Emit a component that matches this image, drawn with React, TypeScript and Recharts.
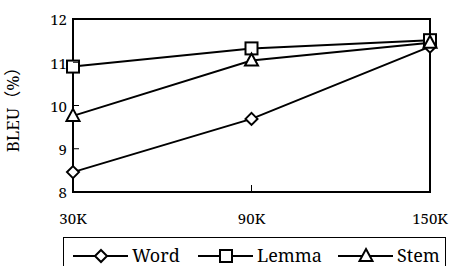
import { Line, LineChart, ReferenceArea, XAxis, YAxis } from "recharts";

const sizes = ["30K", "90K", "150K"];
const wordBleu = [8.46, 9.69, 11.36];
const lemmaBleu = [10.9, 11.32, 11.51];
const stemBleu = [9.76, 11.04, 11.45];
const yTicks = [8, 9, 10, 11, 12];
const seriesNames = ["Word", "Lemma", "Stem"];

const chartData = sizes.map((size, i) => ({
  size,
  Word: wordBleu[i],
  Lemma: lemmaBleu[i],
  Stem: stemBleu[i]
}));

// Liberation Serif falls back to sans here, Noto Serif is the closest Times-like face
const serif = "Noto Serif, DejaVu Serif, Noto Sans CJK SC, serif";

function Marker({ kind, cx, cy }: { kind: string; cx: number; cy: number }) {
  const common = { fill: "#fff", stroke: "#000", strokeWidth: 2 };
  if (kind === "Word") {
    const r = 6;
    return (
      <path
        d={`M${cx},${cy - r}L${cx + r},${cy}L${cx},${cy + r}L${cx - r},${cy}Z`}
        {...common}
      />
    );
  }
  if (kind === "Lemma") {
    return <rect x={cx - 6} y={cy - 6} width={12} height={12} {...common} />;
  }
  return (
    <path
      d={`M${cx},${cy - 7}L${cx + 6.5},${cy + 5}L${cx - 6.5},${cy + 5}Z`}
      {...common}
    />
  );
}

function dotFor(kind: string) {
  return (props: any) => (
    <Marker key={`${kind}-${props.index}`} kind={kind} cx={props.cx} cy={props.cy} />
  );
}

// x ticks point up into the plot, labels sit well below the axis
function XTick(props: any) {
  const { x, y, payload } = props;
  return (
    <g>
      <line x1={x} x2={x} y1={y - 21} y2={y - 28} stroke="#000" strokeWidth={1} />
      <text
        x={x}
        y={y}
        dy="0.71em"
        textAnchor="middle"
        fontSize={15}
        fontFamily={serif}
        fill="#000"
      >
        {payload.value}
      </text>
    </g>
  );
}

// y ticks point right, into the plot
function YTick(props: any) {
  const { x, y, payload } = props;
  return (
    <g>
      <line x1={x + 6} x2={x + 12} y1={y} y2={y} stroke="#000" strokeWidth={1} />
      <text
        x={x}
        y={y + 1}
        dy="0.355em"
        textAnchor="end"
        fontSize={15}
        fontFamily={serif}
        fill="#000"
      >
        {payload.value}
      </text>
    </g>
  );
}

function ChartLegend() {
  const lineStarts = [9, 134, 274];
  return (
    <div
      style={{
        position: "absolute",
        left: 63,
        top: 237,
        width: 383,
        height: 40,
        border: "1px solid #000",
        boxSizing: "border-box",
        background: "#fff"
      }}
    >
      <svg width={383} height={40} style={{ display: "block" }}>
        {seriesNames.map((name, i) => {
          const x0 = lineStarts[i];
          return (
            <g key={name}>
              <line x1={x0} x2={x0 + 55} y1={18} y2={18} stroke="#000" strokeWidth={2} />
              <Marker kind={name} cx={x0 + 28} cy={18} />
              <text
                x={x0 + 59}
                y={18}
                dy="0.35em"
                fontSize={18}
                fontFamily={serif}
                fill="#000"
              >
                {name}
              </text>
            </g>
          );
        })}
      </svg>
    </div>
  );
}

export default function App() {
  return (
    <div
      style={{
        position: "absolute",
        left: 0,
        top: 0,
        width: 449,
        height: 266,
        background: "#fff",
        overflow: "hidden"
      }}
    >
      <LineChart
        width={449}
        height={266}
        data={chartData}
        margin={{ top: 19, right: 19, bottom: 44, left: 0 }}
      >
        <ReferenceArea
          x1="30K"
          x2="150K"
          y1={8}
          y2={12}
          fill="#fff"
          fillOpacity={0}
          stroke="#000"
          strokeWidth={2}
        />
        <XAxis
          dataKey="size"
          height={30}
          tickSize={0}
          tickMargin={21}
          axisLine={{ stroke: "#000", strokeWidth: 2 }}
          tick={<XTick />}
          interval={0}
        />
        <YAxis
          width={73}
          domain={[8, 12]}
          ticks={yTicks}
          tickSize={0}
          tickMargin={6}
          axisLine={{ stroke: "#000", strokeWidth: 2 }}
          tick={<YTick />}
          interval={0}
          label={{
            value: "BLEU（%）",
            angle: -90,
            position: "center",
            dx: -24,
            fill: "#000",
            fontSize: 17,
            fontFamily: serif
          }}
        />
        {seriesNames.map((name) => (
          <Line
            key={name}
            dataKey={name}
            stroke="#000"
            strokeWidth={2}
            dot={dotFor(name)}
            isAnimationActive={false}
          />
        ))}
      </LineChart>
      <ChartLegend />
    </div>
  );
}
